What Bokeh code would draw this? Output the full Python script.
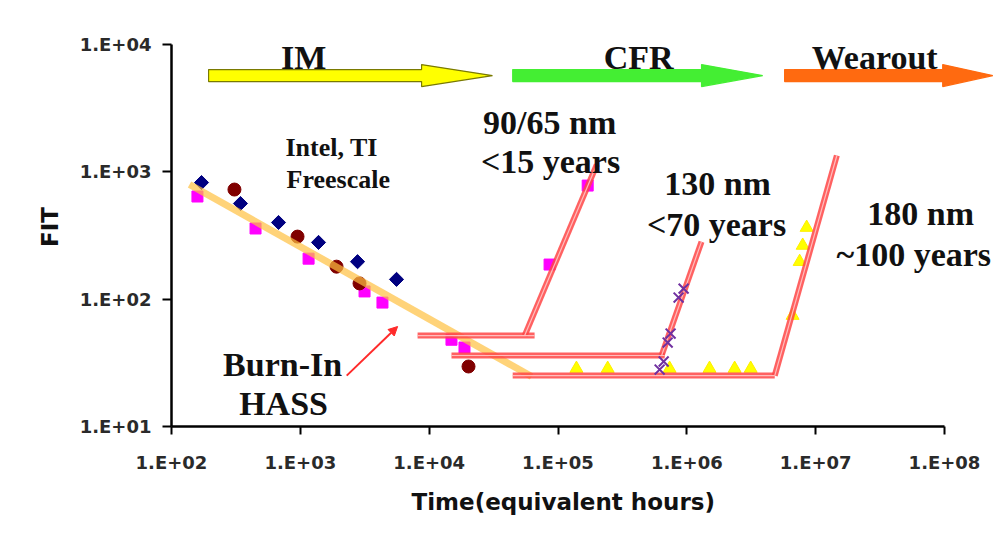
import math
from bokeh.plotting import figure
from bokeh.models import FixedTicker, Arrow, NormalHead, Title
from bokeh.core.properties import value
from bokeh.embed import file_html
from bokeh.resources import INLINE

# ---------------- axes ----------------
x_ticks = [1e2, 1e3, 1e4, 1e5, 1e6, 1e7, 1e8]
x_tick_labels = ["1.E+02", "1.E+03", "1.E+04", "1.E+05", "1.E+06", "1.E+07", "1.E+08"]
y_ticks = [1e1, 1e2, 1e3, 1e4]
y_tick_labels = ["1.E+01", "1.E+02", "1.E+03", "1.E+04"]
x_title = "Time(equivalent hours)"
y_title = "FIT"

# ---------------- measured data ----------------
diamond_x = [171, 343, 677, 1384, 2780, 5580]
diamond_y = [824, 564, 400, 279, 197, 143]
square_x = [159, 449, 1159, 3150, 4340, 14900, 18800, 86000, 170000]
square_y = [640, 359, 208, 115, 94, 48, 41.7, 187, 780]
circle_x = [308, 951, 1910, 2880, 20200]
circle_y = [726, 310, 180, 133, 29.6]
cross_x = [615000, 661000, 710000, 748000, 863000, 944000]
cross_y = [28, 32.4, 45.6, 53.7, 103, 121]
tri_x = [139000, 243000, 735000, 1.50e6, 2.35e6, 3.13e6, 6.62e6, 7.51e6, 7.93e6, 8.51e6]
tri_y = [28.5, 28.5, 28.5, 28.5, 28.5, 28.5, 74.3, 197, 264, 365]

# infant-mortality trend line
trend_x = [138, 62400]
trend_y = [795, 24.7]

# technology nodes: flat (CFR) floor, then wear-out rise
node_names = ["90/65 nm", "130 nm", "180 nm"]
floor_x0 = [8130, 14900, 44500]
floor_x1 = [65800, 673000, 4.81e6]
floor_y = [51.8, 36.1, 25.1]
rise_x0 = [55100, 637000, 4.81e6]
rise_x1 = [200000, 1.30e6, 1.46e7]
rise_y1 = [1140, 283, 1343]

# phase arrows along the top
phase_names = ["IM", "CFR", "Wearout"]
phase_start = [194, 44500, 5.74e6]
phase_neck = [8730, 1.30e6, 9.68e7]
phase_tip = [31000, 3.88e6, 2.37e8]
phase_y = 5700
phase_label_x = [1060, 423000, 2.87e7]
phase_label_y = [7910, 7910, 7910]
phase_fill = ["#ffff00", "#44ee33", "#ff6a10"]
phase_edge = ["#7a7a00", "#44ee33", "#ff6a10"]

# annotations
big_text = ["90/65 nm", "<15 years", "130 nm", "<70 years", "180 nm", "~100 years", "Burn-In", "HASS"]
big_x = [86100, 87500, 1.73e6, 1.70e6, 6.53e7, 5.77e7, 728, 741]
big_y = [2440, 1205, 809, 385, 470, 224, 30.6, 15.1]
small_text = ["Intel, TI", "Freescale"]
small_x = [767, 781]
small_y = [1553, 871]
burn_arrow = dict(x_start=2290, y_start=25.1, x_end=5690, y_end=61)

# ---------------- figure ----------------
p = figure(width=993, height=533, x_axis_type="log", y_axis_type="log",
           x_range=(100, 2.4e8), y_range=(10, 13600),
           output_backend="svg", toolbar_location=None,
           min_border_left=171, min_border_right=0, min_border_top=27, min_border_bottom=107)
p.outline_line_color = None
p.grid.visible = False
p.background_fill_color = "white"
p.border_fill_color = "white"

for ax, ticks, labels, tout, stand in ((p.xaxis[0], x_ticks, x_tick_labels, 8, 17),
                                       (p.yaxis[0], y_ticks, y_tick_labels, 9, 11)):
    ax.ticker = FixedTicker(ticks=ticks)
    ax.major_label_overrides = {t: l for t, l in zip(ticks, labels)}
    ax.minor_tick_line_color = None
    ax.major_tick_in = 0
    ax.major_tick_out = tout
    ax.major_tick_line_width = 2
    ax.major_tick_line_color = "black"
    ax.axis_line_width = 2.5
    ax.axis_line_color = "black"
    ax.major_label_text_font = "DejaVu Sans"
    ax.major_label_text_font_style = "bold"
    ax.major_label_text_font_size = "18px"
    ax.major_label_text_color = "#2a2a2a"
    ax.major_label_standoff = stand
p.xaxis[0].bounds = (1e2, 1e8)
p.yaxis[0].bounds = (1e1, 1e4)

# axis titles
p.add_layout(Title(text=x_title, align="left", offset=240, standoff=22,
                   text_font="DejaVu Sans", text_font_style="bold", text_font_size="23px",
                   text_color="#111111"), "below")
p.yaxis[0].axis_label = y_title
p.yaxis[0].axis_label_standoff = 14
p.yaxis[0].axis_label_text_font = "DejaVu Sans"
p.yaxis[0].axis_label_text_font_style = "bold"
p.yaxis[0].axis_label_text_font_size = "23px"
p.yaxis[0].axis_label_text_color = "#111111"

# phase arrows
s_half = 0.047
h_half = 0.0864
arr_xs, arr_ys = [], []
for a, n, t in zip(phase_start, phase_neck, phase_tip):
    lo, hi = phase_y * 10 ** -s_half, phase_y * 10 ** s_half
    hlo, hhi = phase_y * 10 ** -h_half, phase_y * 10 ** h_half
    arr_xs.append([a, n, n, t, n, n, a])
    arr_ys.append([lo, lo, hlo, phase_y, hhi, hi, hi])
p.patches(arr_xs, arr_ys, fill_color=phase_fill, line_color=phase_edge, line_width=1.2)

p.text(phase_label_x, phase_label_y, text=phase_names,
       text_font=value("Liberation Serif"), text_font_style="bold", text_font_size="34px",
       text_align="center", text_baseline="alphabetic", text_color="#111111")

# markers
p.scatter(diamond_x, diamond_y, marker="square", angle=math.pi / 4, size=10,
          fill_color="#000080", line_color="#000080")
p.scatter(square_x, square_y, marker="square", size=11, fill_color="#ff00ff", line_color="#ff00ff")
p.scatter(circle_x, circle_y, marker="circle", size=13, fill_color="#800000", line_color="#800000")
p.scatter(tri_x, tri_y, marker="triangle", size=13, fill_color="#ffff00", line_color="#ffee00")

# trend line
p.line(trend_x, trend_y, line_color="#ffc040", line_width=7, line_alpha=0.7)

# node lines
seg_xs, seg_ys = [], []
for fx0, fx1, fy, rx0, rx1, ry1 in zip(floor_x0, floor_x1, floor_y, rise_x0, rise_x1, rise_y1):
    seg_xs.append([fx0, fx1]); seg_ys.append([fy, fy])
    seg_xs.append([rx0, rx1]); seg_ys.append([fy, ry1])
p.multi_line(seg_xs, seg_ys, line_color="#ff4545", line_width=6, line_alpha=0.85)
p.multi_line(seg_xs, seg_ys, line_color="#ffc8c8", line_width=1.2, line_alpha=0.9)

p.scatter(cross_x, cross_y, marker="x", size=14, line_color="#7030a0", line_width=2)

# burn-in arrow
p.add_layout(Arrow(end=NormalHead(size=9, fill_color="#ff2a2a", line_color="#ff2a2a"),
                   line_color="#ff2a2a", line_width=2, **burn_arrow))

p.text(big_x, big_y, text=big_text, text_font=value("Liberation Serif"), text_font_style="bold",
       text_font_size="34px", text_align="center", text_baseline="alphabetic", text_color="#111111")
p.text(small_x, small_y, text=small_text, text_font=value("Liberation Serif"), text_font_style="bold",
       text_font_size="26px", text_align="left", text_baseline="alphabetic", text_color="#111111")

open("out.html", "w").write(file_html(p, INLINE))
